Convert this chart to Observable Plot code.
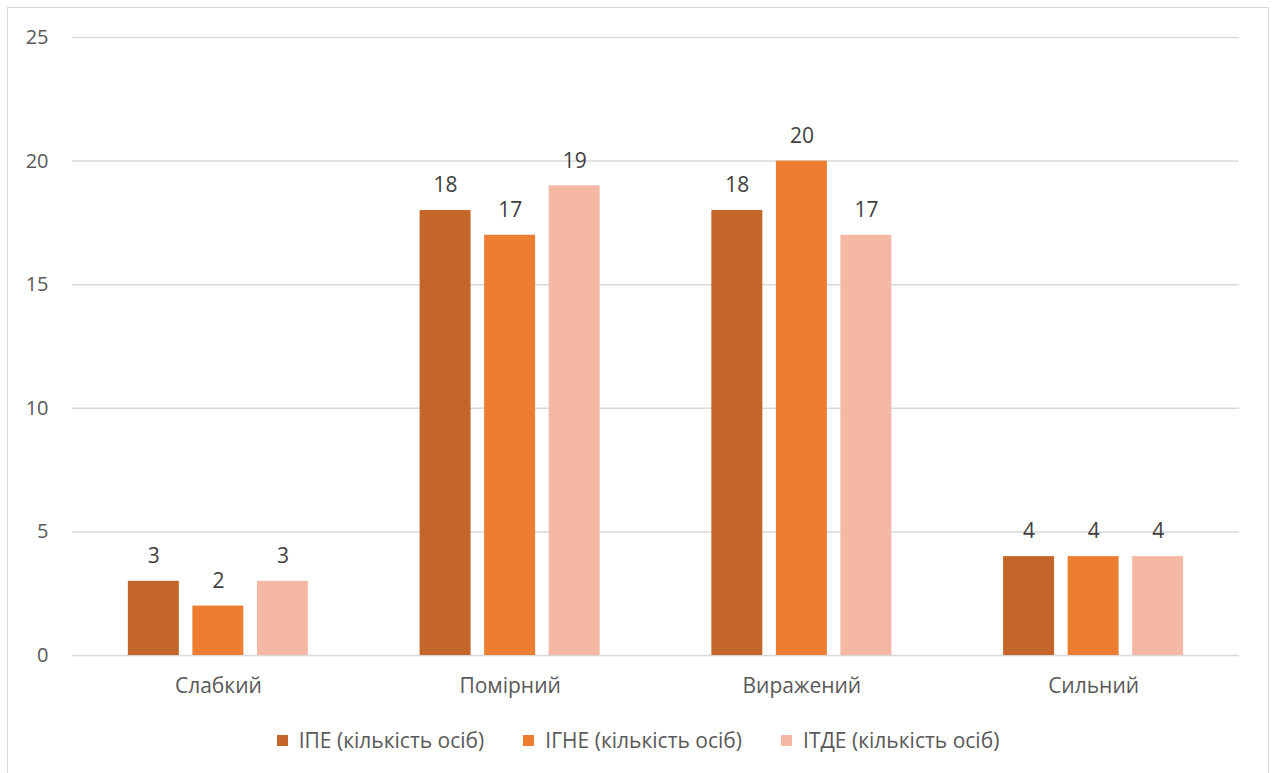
<!DOCTYPE html>
<html>
<head>
<meta charset="utf-8">
<script src="https://cdn.jsdelivr.net/npm/d3@7"></script>
<script src="https://cdn.jsdelivr.net/npm/@observablehq/plot@0.6"></script>
<style>
  html, body { margin: 0; padding: 0; background: #fff; }
  body { width: 1272px; height: 773px; position: relative; overflow: hidden; font-family: "Open Sans", Lato, sans-serif; }
  #frame { position: absolute; left: 7px; top: 7px; width: 1262px; height: 820px; border: 1.5px solid #d9d9d9; box-sizing: border-box; }
  .layer { position: absolute; left: 0; top: 0; }
  #legend { position: absolute; left: 0; top: 726px; width: 1272px; display: flex; justify-content: center; gap: 39px; font-size: 21px; color: #595959; padding-left: 4px; box-sizing: border-box; line-height: 28px; }
  #legend .item { display: flex; align-items: center; gap: 11px; }
  #legend .sw { width: 11px; height: 11px; display: inline-block; }
</style>
</head>
<body>
<div id="frame"></div>
<div id="grid" class="layer"></div>
<div id="bars" class="layer"></div>
<div id="legend"></div>
<script>
// Levels of severity (x groups)
const levels = ["Слабкий", "Помірний", "Виражений", "Сильний"];
// Indices shown as bars within each group
const series = ["ІПЕ (кількість осіб)", "ІГНЕ (кількість осіб)", "ІТДЕ (кількість осіб)"];
const colors = ["#c4652a", "#ed7d31", "#f4b8a4"];
// Number of people per level, one array per index
const ipe  = [3, 18, 18, 4];
const igne = [2, 17, 20, 4];
const itde = [3, 19, 17, 4];
const yTicks = [0, 5, 10, 15, 20, 25];

const valuesBySeries = [ipe, igne, itde];
const rows = [];
levels.forEach((lvl, i) => {
  series.forEach((s, j) => rows.push({level: lvl, series: s, value: valuesBySeries[j][i]}));
});

// shared frame for both layers
const frame = {width: 1272, height: 710, marginLeft: 72, marginRight: 33, marginTop: 37, marginBottom: 55};
const font = {fontFamily: "'Open Sans', Lato, sans-serif", color: "#595959", background: "transparent"};
const yScale = {domain: [0, 25], ticks: yTicks, label: null};

// back layer: y axis and gridlines spanning the full plot width
const gridLayer = Plot.plot({
  ...frame,
  style: {...font, fontSize: "20px"},
  y: yScale,
  x: {axis: null},
  marks: [
    Plot.gridY(yTicks, {stroke: "#d9d9d9", strokeOpacity: 1, strokeWidth: 1.5}),
    Plot.axisY(yTicks, {tickSize: 0, tickPadding: 24, fill: "#595959", fontSize: 20, label: null})
  ]
});
document.getElementById("grid").appendChild(gridLayer);

// front layer: grouped bars, value labels and group names
const barLayer = Plot.plot({
  ...frame,
  style: {...font, fontSize: "21px"},
  fx: {domain: levels, paddingInner: 0.29, paddingOuter: 0.145, round: false, label: null},
  x: {domain: series, padding: 0.21, round: false, axis: null},
  y: {...yScale, axis: null},
  color: {domain: series, range: colors},
  marks: [
    Plot.axisFx({tickSize: 0, tickPadding: 23, fill: "#595959", fontSize: 21, label: null, anchor: "bottom"}),
    Plot.barY(rows, {fx: "level", x: "series", y: "value", fill: "series"}),
    Plot.text(rows, {fx: "level", x: "series", y: "value", text: d => String(d.value), dy: -25, fill: "#404040", fontSize: 21})
  ]
});
document.getElementById("bars").appendChild(barLayer);

const legend = document.getElementById("legend");
series.forEach((s, i) => {
  const item = document.createElement("div");
  item.className = "item";
  const sw = document.createElement("span");
  sw.className = "sw";
  sw.style.background = colors[i];
  const label = document.createElement("span");
  label.textContent = s;
  item.appendChild(sw);
  item.appendChild(label);
  legend.appendChild(item);
});
</script>
</body>
</html>
